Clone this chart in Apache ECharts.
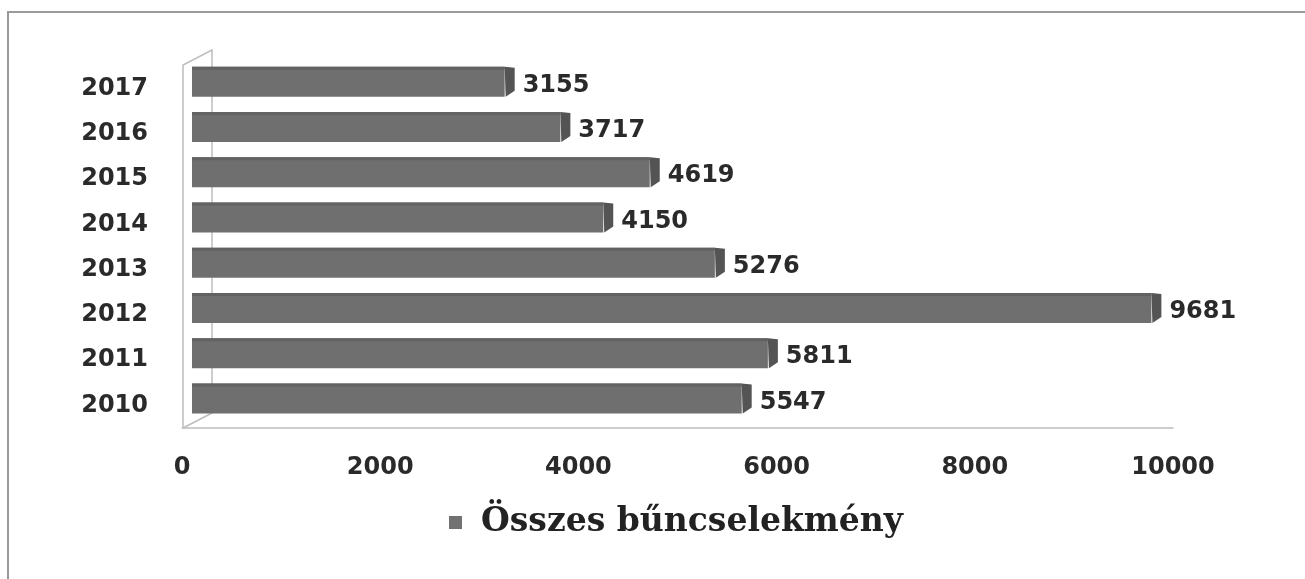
<!DOCTYPE html>
<html>
<head>
    <meta charset="utf-8">
    <title>Összes bűncselekmény</title>
    <script src="https://cdn.jsdelivr.net/npm/echarts@6.0.0/dist/echarts.min.js"></script>
</head>
<style>
    html, body { margin: 0; padding: 0; background: #fff; }
</style>
<body>
<div id="main" style="width: 1305px; height: 579px;"></div>
<script>
const years = ['2010', '2011', '2012', '2013', '2014', '2015', '2016', '2017'];
const crimes = [5547, 5811, 9681, 5276, 4150, 4619, 3717, 3155];
const xTicks = [0, 2000, 4000, 6000, 8000, 10000];
const seriesName = 'Összes bűncselekmény';

const numFont = '"DejaVu Sans", Verdana, sans-serif';
const shift = 10;   // 3D oblique offset of the bars
const half = 15;    // half bar thickness
const cap = 10;     // depth of bar end face

let myChart = echarts.init(document.getElementById('main'));

function renderBar(params, api) {
    const val = api.value(0);
    const cat = api.value(1);
    const start = api.coord([0, cat]);
    const end = api.coord([val, cat]);
    const x0 = start[0] + shift, x1 = end[0] + shift, cy = end[1];
    const top = cy - half, bot = cy + half;
    return {
        type: 'group',
        children: [
            { type: 'rect', shape: { x: x0, y: top, width: x1 - x0, height: bot - top },
              style: { fill: '#6f6f6f' } },
            { type: 'rect', shape: { x: x0, y: top, width: x1 - x0, height: 3 },
              style: { fill: '#626262' } },
            { type: 'polygon', shape: { points: [[x1, top], [x1 + cap, top + 1], [x1 + cap, bot - 6], [x1 + 1, bot]] },
              style: { fill: '#545454' } },
            { type: 'text', style: { text: String(val), x: x1 + cap + 8, y: cy + 4, verticalAlign: 'middle',
              font: 'bold 24px ' + numFont, fill: '#2a2a2a' } }
        ]
    };
}

const option = {
    animation: false,
    backgroundColor: '#fff',
    grid: { left: 182, right: 132, top: 59, bottom: 158, containLabel: false },
    xAxis: {
        type: 'value', min: 0, max: 10000, interval: 2000, offset: 7,
        axisLine: { show: true, lineStyle: { color: '#bdbdbd', width: 1.5 } },
        axisTick: { show: false },
        splitLine: { show: false },
        axisLabel: { margin: 28, color: '#2a2a2a', fontSize: 24, fontWeight: 'bold', fontFamily: numFont,
            formatter: v => xTicks.indexOf(v) >= 0 ? String(v) : '' }
    },
    yAxis: {
        type: 'category', data: years,
        axisLine: { show: false }, axisTick: { show: false },
        axisLabel: { margin: 34,
            formatter: v => '{y|' + v + '}',
            rich: { y: { color: '#2a2a2a', fontSize: 24, fontWeight: 'bold', fontFamily: numFont,
                padding: [14, 0, 0, 0] } } }
    },
    legend: {
        data: [{ name: seriesName, icon: 'rect' }],
        left: 444, top: 501,
        itemWidth: 13, itemHeight: 13,
        textStyle: { fontFamily: '"DejaVu Serif", "Liberation Serif", serif', fontWeight: 'bold',
            fontSize: 33, color: '#222', padding: [0, 0, 0, 14] }
    },
    graphic: [
        // page frame
        { type: 'polyline', silent: true, shape: { points: [[8, 579], [8, 12], [1305, 12]] },
          style: { stroke: '#9a9a9a', lineWidth: 2, fill: null } },
        // left wall of the 3D plot
        { type: 'polyline', silent: true, shape: { points: [[183, 428], [183, 65], [212, 50], [212, 413], [183, 428]] },
          style: { stroke: '#bdbdbd', lineWidth: 1.5, fill: null } }
    ],
    series: [{
        name: seriesName,
        type: 'custom',
        renderItem: renderBar,
        itemStyle: { color: '#717171' },
        encode: { x: 0, y: 1 },
        data: crimes.map((v, i) => [v, i])
    }]
};

myChart.setOption(option);
</script>
</body>
</html>
